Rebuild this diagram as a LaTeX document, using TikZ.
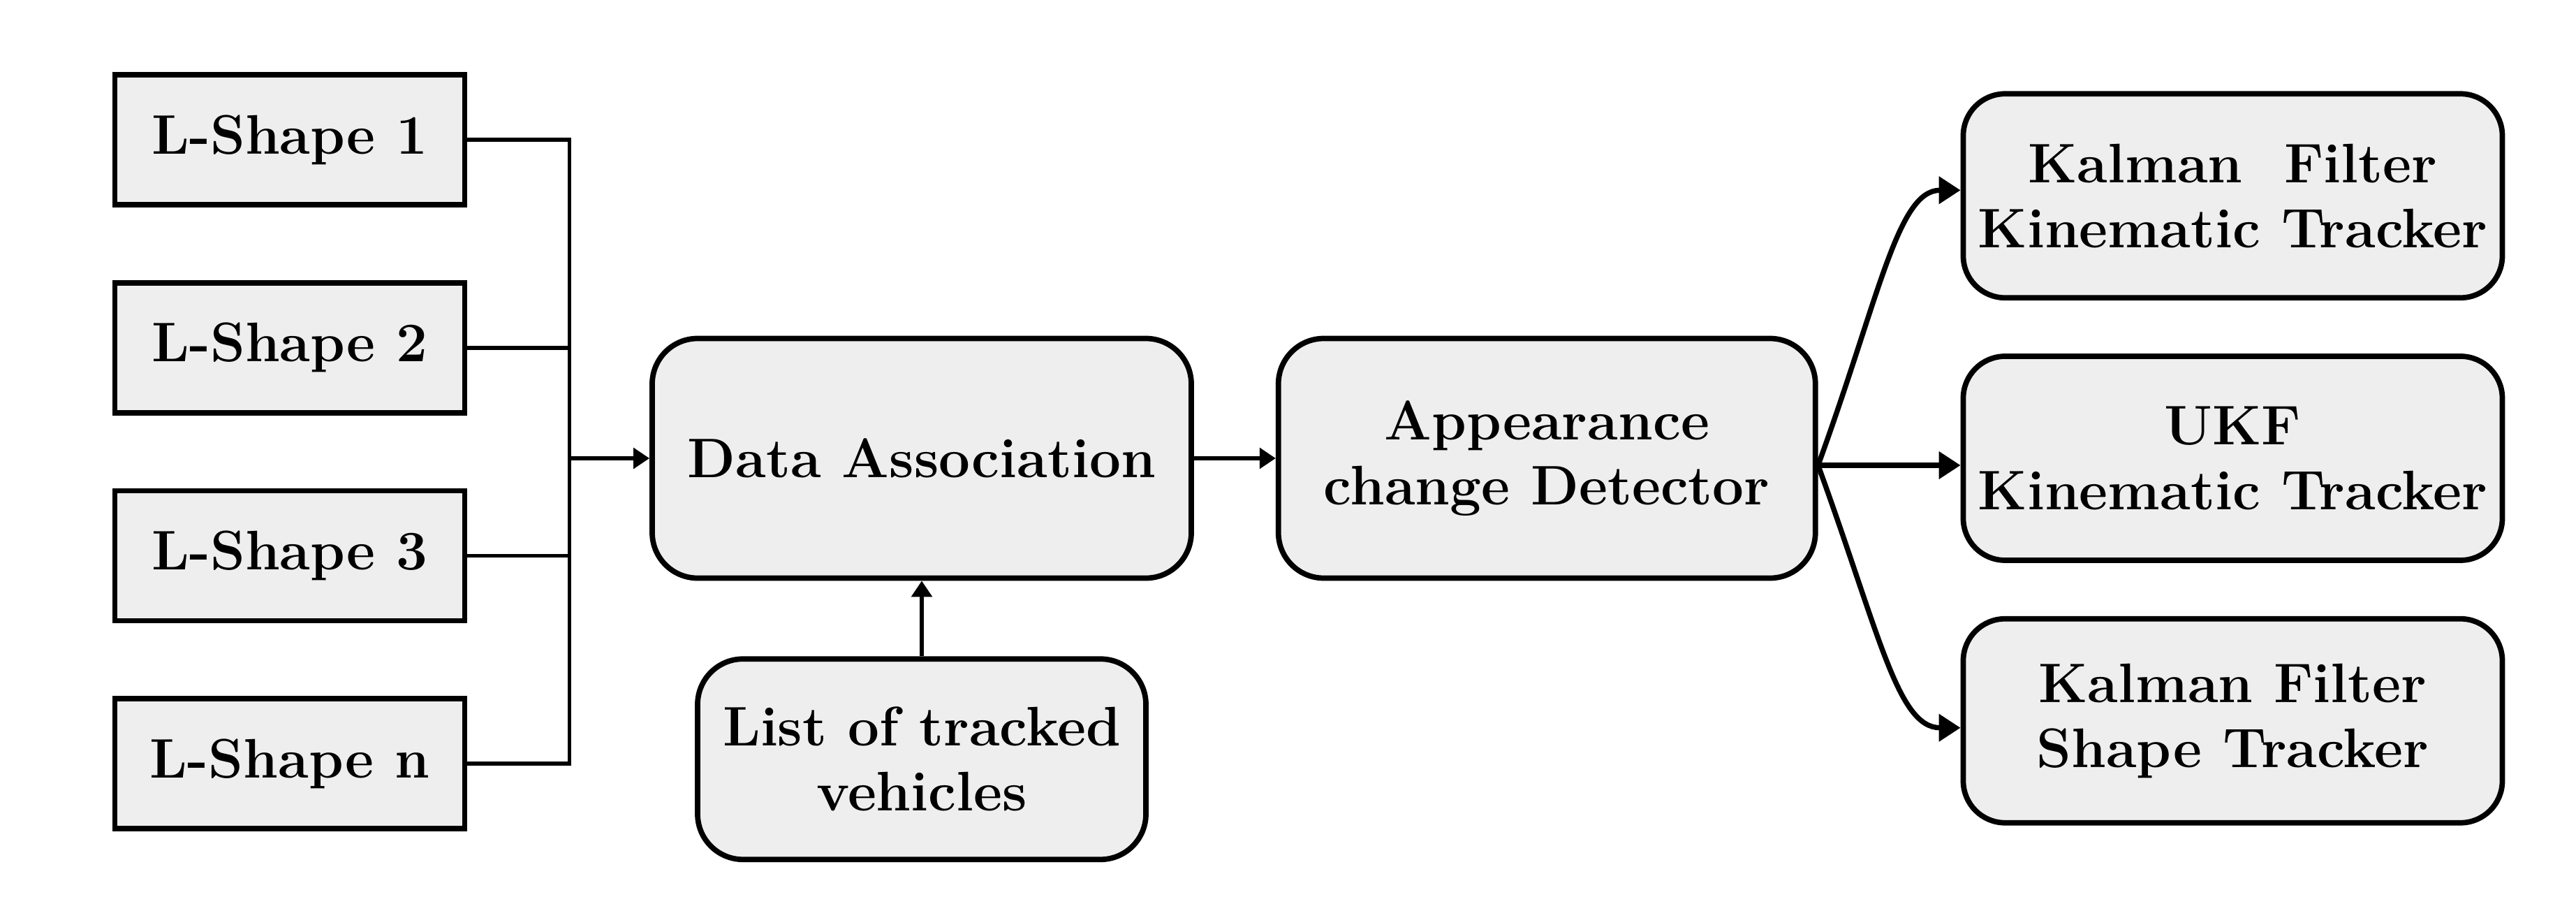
\documentclass[tikz,border=0pt]{standalone}
\usepackage{tikz}
\usetikzlibrary{arrows.meta, positioning}

\definecolor{boxfill}{HTML}{EEEEEE}

\begin{document}
\begin{tikzpicture}[
  every node/.style={draw, fill=boxfill, line width=2.2pt, align=center, inner sep=0pt,
    font=\fontsize{22.7}{26.5}\selectfont\bfseries},
  lshape/.style={minimum width=5.01cm, minimum height=1.86cm},
  block/.style={rounded corners=0.65cm, minimum width=7.72cm, minimum height=3.43cm},
  tracker/.style={rounded corners=0.6cm, minimum width=7.72cm, minimum height=2.92cm},
  conn/.style={line width=1.6pt},
  arrow/.style={-{Triangle[length=0.23cm, width=0.29cm]}, line width=1.7pt},
  bigarrow/.style={-{Triangle[length=0.31cm, width=0.38cm]}, line width=2.1pt}
]
\useasboundingbox (0,0) rectangle (36.89,13.13);

\node [lshape] (ls1) at (4.15,11.13) {L-Shape 1};
\node [lshape, below=1.04cm of ls1] (ls2) {L-Shape 2};
\node [lshape, below=1.04cm of ls2] (ls3) {L-Shape 3};
\node [lshape, below=1.04cm of ls3] (lsn) {L-Shape n};

\node [block] (da) at (13.20,6.57) {Data Association};
\node [block, minimum width=7.69cm, right=1.17cm of da] (acd) {Appearance\\change Detector};
\node [block, minimum width=6.42cm, minimum height=2.87cm, below=1.08cm of da] (list) {List of tracked\\vehicles};

\node [tracker, right=2.04cm of acd] (ukf) {UKF\\Kinematic Tracker};
\node [tracker, above=0.76cm of ukf] (kf) {Kalman\ \ Filter\\Kinematic Tracker};
\node [tracker, below=0.76cm of ukf] (shape) {Kalman Filter\\Shape Tracker};

% collect the L-shapes
\coordinate (bus) at ([xshift=1.46cm]ls1.east);
\draw [conn] (ls1.east) -- (bus) -- (bus |- lsn.east) -- (lsn.east);
\draw [conn] (ls2.east) -- (ls2.east -| bus);
\draw [conn] (ls3.east) -- (ls3.east -| bus);
\draw [arrow] (bus |- da.west) -- (da.west);

\draw [arrow] (da) -- (acd);
\draw [arrow] (list) -- (da);

% split to the trackers
\coordinate (fork) at ([yshift=-0.1cm]acd.east);
\draw [bigarrow] (fork) to[out=70, in=180, out distance=2.6cm, in distance=0.9cm] ([yshift=0.08cm]kf.west);
\draw [bigarrow] (fork) -- (fork -| ukf.west);
\draw [bigarrow] (fork) to[out=-70, in=180, out distance=2.6cm, in distance=0.9cm] ([yshift=-0.1cm]shape.west);
\end{tikzpicture}
\end{document}
